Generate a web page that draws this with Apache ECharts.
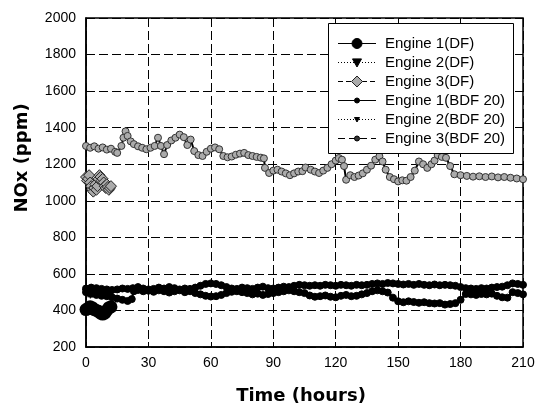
<!DOCTYPE html>
<html><head><meta charset="utf-8">
<script src="https://cdn.jsdelivr.net/npm/echarts@6/dist/echarts.min.js"></script>
<style>html,body{margin:0;padding:0;background:#fff}#c{width:548px;height:406px}</style>
</head><body><div id="c"></div>
<script>
const seriesNames = ['Engine 1(DF)', 'Engine 2(DF)', 'Engine 3(DF)', 'Engine 1(BDF 20)', 'Engine 2(BDF 20)', 'Engine 3(BDF 20)'];
const xTicks = [0, 30, 60, 90, 120, 150, 180, 210];
const yTicks = [200, 400, 600, 800, 1000, 1200, 1400, 1600, 1800, 2000];

// [time (hours), NOx (ppm)]
const engine1DF = [[0,405],[1,410],[2,420],[3,415],[4,405],[5,400],[6,395],[7,385],[8,380],[9,385],[10,400],[11,415],[12,420]];
const engine2DF = [[0,495],[1,490],[2,485],[3,490],[4,495],[5,492],[6,488],[7,485],[8,490],[9,494],[10,490],[11,486],[12,488]];
const engine3DF = [[0,1130],[0.5,1110],[1,1120],[1.5,1140],[2,1100],[2.5,1080],[3,1060],[3.5,1050],[4,1070],[4.5,1090],[5,1060],[5.5,1080],[6,1120],[6.5,1140],[7,1130],[7.5,1110],[8,1120],[8.5,1100],[9,1080],[9.5,1070],[10,1090],[10.5,1075],[11,1060],[11.5,1070],[12,1080]];
const engine1BDF = [[0,520],[2.5,525],[5,522],[7.5,518],[10,515],[12.5,512],[15,515],[17.5,520],[20,518],[22.5,522],[25,528],[27.5,520],[30,515],[32.5,518],[35,525],[37.5,520],[40,528],[42.5,522],[45,515],[47.5,520],[50,518],[52.5,525],[55,535],[57.5,545],[60,548],[62.5,545],[65,538],[67.5,528],[70,520],[72.5,518],[75,525],[77.5,522],[80,518],[82.5,525],[85,530],[87.5,522],[90,520],[92.5,525],[95,530],[97.5,528],[100,535],[102.5,540],[105,538],[107.5,535],[110,538],[112.5,535],[115,540],[117.5,538],[120,535],[122.5,540],[125,538],[127.5,535],[130,540],[132.5,538],[135,540],[137.5,545],[140,548],[142.5,545],[145,550],[147.5,548],[150,545],[152.5,542],[155,545],[157.5,540],[160,545],[162.5,540],[165,538],[167.5,542],[170,538],[172.5,540],[175,538],[177.5,535],[180,528],[182.5,522],[185,520],[187.5,518],[190,522],[192.5,520],[195,525],[197.5,528],[200,530],[202.5,538],[205,548],[207.5,545],[210,540]];
const engine2BDF = [[0,500],[2.5,492],[5,485],[7.5,480],[10,478],[12.5,472],[15,465],[17.5,458],[20,452],[22,462],[23,505],[25,512],[27.5,505],[30,508],[32.5,502],[35,510],[37.5,505],[40,498],[42.5,505],[45,510],[47.5,500],[50,505],[52.5,495],[55,488],[57.5,480],[60,476],[62.5,478],[65,485],[67.5,495],[70,502],[72.5,505],[75,500],[77.5,495],[80,488],[82.5,492],[85,485],[87.5,490],[90,495],[92.5,500],[95,505],[97.5,510],[100,505],[102.5,500],[105,495],[107.5,482],[110,475],[112.5,478],[115,482],[117.5,475],[120,472],[122.5,480],[125,485],[127.5,478],[130,480],[132.5,488],[135,495],[137.5,505],[140,510],[142.5,505],[145,498],[147.5,470],[150,450],[152.5,445],[155,450],[157.5,446],[160,442],[162.5,445],[165,440],[167.5,438],[170,440],[172.5,432],[175,435],[177.5,440],[180,458],[182.5,490],[185,488],[187.5,485],[190,490],[192.5,488],[195,492],[197.5,480],[200,472],[202.5,470],[205,500],[207.5,495],[210,488]];
const engine3BDF = [[0,1300],[2,1290],[4,1298],[6,1285],[8,1292],[10,1280],[12,1285],[14,1268],[15,1262],[17,1300],[18,1345],[19,1380],[20,1355],[21.5,1325],[23,1310],[25,1298],[27,1290],[29,1282],[31,1290],[33,1300],[34.6,1345],[36,1300],[37.5,1255],[39,1305],[41,1330],[43,1345],[45,1362],[47,1348],[48.7,1305],[50.3,1335],[52,1272],[54,1250],[56,1245],[58,1268],[60,1285],[62,1292],[64,1282],[66,1245],[68,1238],[70,1242],[72,1252],[74,1258],[76,1262],[78,1250],[80,1245],[82,1240],[84,1236],[85.5,1232],[86,1180],[88,1152],[90,1165],[92,1170],[94,1160],[96,1150],[98,1140],[100,1150],[102,1160],[104,1162],[105.5,1182],[108,1170],[110,1160],[112,1152],[114,1165],[116,1180],[118,1200],[120,1220],[121.5,1234],[123,1225],[124,1190],[125,1115],[127,1140],[129,1130],[131,1138],[133,1150],[135,1170],[137,1192],[139,1225],[141,1243],[142.5,1215],[144,1170],[146,1130],[148,1118],[150,1106],[152,1112],[154,1110],[156,1130],[158,1165],[160,1215],[162,1200],[164,1180],[166,1200],[167.5,1220],[169,1250],[171,1240],[173,1235],[175,1190],[177,1145],[180,1140],[183,1136],[186,1132],[189,1134],[192,1130],[195,1133],[198,1128],[201,1130],[204,1126],[207,1122],[210,1118]];

const chart = echarts.init(document.getElementById('c'), null, {renderer: 'canvas'});
const font = '"Liberation Sans", Arial, sans-serif';
const GRAY = '#ababab';
function ln(type, w) { return {color: '#000', width: w || 1, type: type}; }

// Legend drawn as graphic so that symbol sizes match the original
const legendStyles = [
  {dash: null, sym: 'circle', size: 10, fill: '#000', stroke: '#000'},
  {dash: [1, 2], sym: 'tri', size: 9, fill: '#000', stroke: '#000'},
  {dash: [5, 3], sym: 'diamond', size: 11, fill: GRAY, stroke: '#222'},
  {dash: null, sym: 'circle', size: 5, fill: '#000', stroke: '#000'},
  {dash: [1, 2], sym: 'tri', size: 5, fill: '#000', stroke: '#000'},
  {dash: [7, 4], sym: 'circle', size: 5, fill: '#333', stroke: '#000'}
];
const legendGraphic = [{type: 'rect', z: 100, shape: {x: 328.5, y: 23.5, width: 185, height: 130}, style: {fill: '#fff', stroke: '#000', lineWidth: 1}}];
seriesNames.forEach(function (name, i) {
  const cy = 43.5 + i * 19;
  const s = legendStyles[i];
  legendGraphic.push({type: 'line', z: 101, shape: {x1: 338, y1: cy, x2: 376, y2: cy}, style: {stroke: '#000', lineWidth: 1, lineDash: s.dash}});
  const cx = 357, h = s.size / 2;
  if (s.sym === 'circle') {
    legendGraphic.push({type: 'circle', z: 102, shape: {cx: cx, cy: cy, r: h}, style: {fill: s.fill, stroke: s.stroke, lineWidth: 1}});
  } else if (s.sym === 'tri') {
    legendGraphic.push({type: 'polygon', z: 102, shape: {points: [[cx - h, cy - h * 0.8], [cx + h, cy - h * 0.8], [cx, cy + h]]}, style: {fill: s.fill, stroke: s.stroke, lineWidth: 1}});
  } else {
    legendGraphic.push({type: 'polygon', z: 102, shape: {points: [[cx, cy - h], [cx + h, cy], [cx, cy + h], [cx - h, cy]]}, style: {fill: s.fill, stroke: s.stroke, lineWidth: 1}});
  }
  legendGraphic.push({type: 'text', z: 102, x: 385, y: cy, style: {text: name, fontSize: 15, fontFamily: font, fill: '#000', align: 'left', verticalAlign: 'middle'}});
});

chart.setOption({
  animation: false,
  backgroundColor: '#fff',
  grid: {left: 86, right: 25, top: 18, bottom: 59, show: true, borderColor: '#000', borderWidth: 1.5, backgroundColor: 'transparent'},
  xAxis: {
    type: 'value', min: xTicks[0], max: xTicks[xTicks.length - 1], interval: 30,
    axisLine: {show: true, onZero: false, lineStyle: {color: '#000', width: 1.5}},
    axisTick: {show: true, inside: true, length: 5, lineStyle: {color: '#000'}},
    axisLabel: {color: '#000', fontSize: 14, fontFamily: font, margin: 9, showMaxLabel: true, showMinLabel: true},
    splitLine: {show: true, lineStyle: {color: '#000', width: 1, type: [9, 4]}}
  },
  yAxis: {
    type: 'value', min: yTicks[0], max: yTicks[yTicks.length - 1], interval: 200,
    axisLine: {show: true, onZero: false, lineStyle: {color: '#000', width: 1.5}},
    axisTick: {show: true, inside: true, length: 5, lineStyle: {color: '#000'}},
    axisLabel: {color: '#000', fontSize: 14, fontFamily: font, margin: 10, formatter: function (v) { return String(v); }},
    splitLine: {show: true, lineStyle: {color: '#000', width: 1, type: [9, 4]}}
  },
  graphic: [
    {type: 'text', x: 22, y: 158, rotation: Math.PI / 2,
     style: {text: 'NOx (ppm)', fontSize: 18, fontWeight: 'bold', fontFamily: '"DejaVu Sans", sans-serif', fill: '#000', align: 'center', verticalAlign: 'middle'}},
    {type: 'text', x: 301, y: 396,
     style: {text: 'Time (hours)', fontSize: 18, fontWeight: 'bold', fontFamily: '"DejaVu Sans", sans-serif', fill: '#000', align: 'center', verticalAlign: 'middle'}}
  ].concat(legendGraphic),
  series: [
    {name: seriesNames[5], type: 'line', data: engine3BDF, symbol: 'circle', symbolSize: 7,
     lineStyle: ln('solid', 2), itemStyle: {color: GRAY, borderColor: '#333', borderWidth: 1}, z: 2},
    {name: seriesNames[3], type: 'line', data: engine1BDF, symbol: 'circle', symbolSize: 7,
     lineStyle: ln('solid', 2), itemStyle: {color: '#000', borderColor: '#000', borderWidth: 1}, z: 3},
    {name: seriesNames[4], type: 'line', data: engine2BDF, symbol: 'circle', symbolSize: 7,
     lineStyle: ln('solid', 2), itemStyle: {color: '#000', borderColor: '#000', borderWidth: 1}, z: 3},
    {name: seriesNames[2], type: 'line', data: engine3DF, symbol: 'diamond', symbolSize: 11,
     lineStyle: ln([6, 3]), itemStyle: {color: GRAY, borderColor: '#222', borderWidth: 1}, z: 4},
    {name: seriesNames[1], type: 'line', data: engine2DF, symbol: 'triangle', symbolRotate: 180, symbolSize: 8,
     lineStyle: ln('dotted'), itemStyle: {color: '#000'}, z: 4},
    {name: seriesNames[0], type: 'line', data: engine1DF, symbol: 'circle', symbolSize: 13,
     lineStyle: ln('solid'), itemStyle: {color: '#000'}, z: 5}
  ]
});
</script>
</body></html>
